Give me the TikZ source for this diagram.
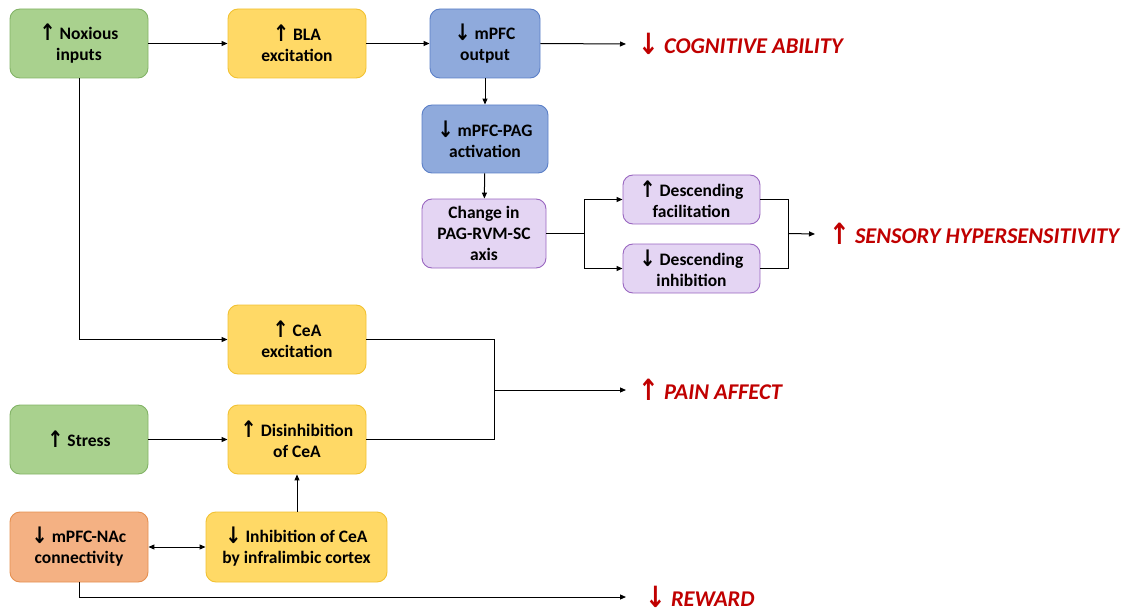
\documentclass[tikz,border=0pt]{standalone}
\usepackage{fontspec}
\setmainfont{Carlito}
\newfontfamily\arr{DejaVu Sans}
\usetikzlibrary{arrows.meta}
\definecolor{gfill}{HTML}{A9D18E}\definecolor{gdraw}{HTML}{82B366}
\definecolor{yfill}{HTML}{FFD966}\definecolor{ydraw}{HTML}{F2C232}
\definecolor{bfill}{HTML}{8FAADC}\definecolor{bdraw}{HTML}{5B7FC7}
\definecolor{pfill}{HTML}{E4D5F3}\definecolor{pdraw}{HTML}{9966C0}
\definecolor{ofill}{HTML}{F4B183}\definecolor{odraw}{HTML}{E59050}
\definecolor{outred}{HTML}{C00000}
\newcommand{\U}{\raisebox{-0.06em}{\scalebox{1.1}[1.3]{\arr\bfseries\char"2191}}}
\newcommand{\D}{\raisebox{-0.06em}{\scalebox{1.1}[1.3]{\arr\bfseries\char"2193}}}
\begin{document}
\begin{tikzpicture}[x=1pt,y=-1pt,
  box/.style={rounded corners=10pt, line width=0.9pt, align=center, font=\fontsize{17.5}{21}\selectfont\bfseries, inner sep=0pt},
  green/.style={box, fill=gfill, draw=gdraw},
  yel/.style={box, fill=yfill, draw=ydraw},
  blu/.style={box, fill=bfill, draw=bdraw},
  pur/.style={box, fill=pfill, draw=pdraw},
  ora/.style={box, fill=ofill, draw=odraw},
  outc/.style={font=\fontsize{22.5}{24}\selectfont\bfseries\itshape, text=outred, anchor=west, inner sep=0pt},
  con/.style={line width=1pt, -{Triangle[length=6pt,width=5pt]}},
  lin/.style={line width=1pt}]
\useasboundingbox (0,0) rectangle (1122,615);
% nodes
\node[green, minimum width=138pt, minimum height=69pt] (nox) at (79,43.5) {\U{} Noxious\\inputs};
\node[yel, minimum width=138pt, minimum height=69pt] (bla) at (297,43.5) {\U{} BLA\\excitation};
\node[blu, minimum width=110pt, minimum height=69pt] (mpfc) at (485,43.5) {\D{} mPFC\\output};
\node[blu, minimum width=126pt, minimum height=68pt] (pag) at (485,139) {\D{} mPFC-PAG\\activation};
\node[pur, minimum width=124pt, minimum height=69pt] (axis) at (484,233.5) {Change in\\PAG-RVM-SC\\axis};
\node[pur, minimum width=137pt, minimum height=49pt] (fac) at (691.5,199.5) {\U{} Descending\\facilitation};
\node[pur, minimum width=137pt, minimum height=49pt] (inh) at (691.5,268.5) {\D{} Descending\\inhibition};
\node[yel, minimum width=138pt, minimum height=69pt] (cea) at (297,339.5) {\U{} CeA\\excitation};
\node[green, minimum width=138pt, minimum height=69pt] (stress) at (79,439.5) {\U{} Stress};
\node[yel, minimum width=138pt, minimum height=69pt] (dis) at (297,439.5) {\U{} Disinhibition\\of CeA};
\node[yel, minimum width=181pt, minimum height=70pt] (il) at (296.5,547) {\D{} Inhibition of CeA\\by infralimbic cortex};
\node[ora, minimum width=138pt, minimum height=70pt] (nac) at (79,547) {\D{} mPFC-NAc\\connectivity};
% outcomes
\node[outc] (cog) at (638,44) {\D{} COGNITIVE ABILITY};
\node[outc] (sens) at (829,234) {\U{} SENSORY HYPERSENSITIVITY};
\node[outc] (pain) at (638,390) {\U{} PAIN AFFECT};
\node[outc] (rew) at (645,597) {\D{} REWARD};
% junction coordinates
\coordinate (j1) at (584,233.5);
\coordinate (j2) at (788,233.5);
\coordinate (j3) at (494,390);
% connectors
\draw[con] (nox) -- (bla);
\draw[con] (bla) -- (mpfc);
\draw[con] (mpfc.east) -- ([xshift=-12pt]cog.west);
\draw[con] (mpfc) -- (pag);
\draw[con] (pag) -- (axis);
\draw[lin] (axis.east) -- (j1);
\draw[con] (j1) |- (fac.west);
\draw[con] (j1) |- (inh.west);
\draw[lin] (fac.east) -| (j2);
\draw[lin] (inh.east) -| (j2);
\draw[con] (j2) -- ([xshift=-14pt]sens.west);
\draw[con] (nox.south) |- (cea.west);
\draw[lin] (cea.east) -| (j3);
\draw[lin] (dis.east) -| (j3);
\draw[con] (j3) -- ([xshift=-12pt]pain.west);
\draw[con] (stress) -- (dis);
\draw[con] (il.north -| dis.south) -- (dis.south);
\draw[line width=1pt, {Triangle[length=6pt,width=5pt]}-{Triangle[length=6pt,width=5pt]}] (nac) -- (il);
\draw[con] (nac.south) |- ([xshift=-19pt]rew.west);
\end{tikzpicture}
\end{document}
